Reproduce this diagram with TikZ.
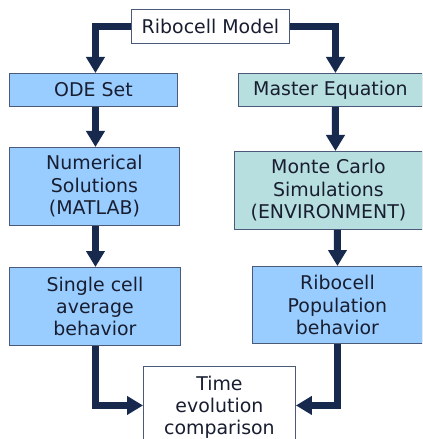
\documentclass[tikz,border=0pt]{standalone}
\usepackage{fontspec}
\setmainfont{DejaVu Sans}
\usetikzlibrary{arrows.meta}
\definecolor{navy}{HTML}{172A4E}
\definecolor{bord}{HTML}{4A5A78}
\definecolor{lblue}{HTML}{99CCFF}
\definecolor{lteal}{HTML}{B8DFE0}
\definecolor{txt}{HTML}{181E30}
\tikzset{
  box/.style={draw=bord, line width=0.9bp, rectangle, inner sep=0pt, align=center,
    text=txt, font=\fontsize{19}{22.5}\selectfont, anchor=north west},
  flow/.style={draw=navy, line width=7bp, line join=miter,
    -{Triangle[width=18bp,length=16bp]}}
}
\begin{document}
\begin{tikzpicture}[x=1bp,y=-1bp]
\useasboundingbox (0,0) rectangle (422,439);
\clip (0,0) rectangle (422,439);
\node[box, fill=white, minimum width=158bp, minimum height=34bp] (rm) at (131,9) {Ribocell Model};
\node[box, fill=lblue, minimum width=168bp, minimum height=33bp] (ode) at (9,73) {ODE Set};
\node[box, fill=lteal, minimum width=184bp, minimum height=33bp] (me) at (238,73) {Master Equation};
\node[box, fill=lblue, minimum width=170bp, minimum height=78bp] (num) at (9,147) {Numerical\\Solutions\\(MATLAB)};
\node[box, fill=lteal, minimum width=188bp, minimum height=78bp] (mc) at (234,151) {Monte Carlo\\Simulations\\(ENVIRONMENT)};
\node[box, fill=lblue, minimum width=171bp, minimum height=78bp] (sc) at (9,267) {Single cell\\average\\behavior};
\node[box, fill=lblue, minimum width=170bp, minimum height=77bp] (pop) at (252,266) {Ribocell\\Population\\behavior};
\node[box, fill=white, minimum width=152bp, minimum height=84bp,
  font=\fontsize{19}{22}\selectfont] (te) at (143,366) {\raisebox{3bp}{\begin{tabular}{@{}c@{}}Time\\evolution\\comparison\end{tabular}}};
\draw[flow] (rm.west) -| ([xshift=2bp]ode.north);
\draw[flow] (rm.east) -| ([xshift=5bp]me.north);
\draw[flow] ([xshift=2bp]ode.south) -- ([xshift=1bp]num.north);
\draw[flow] ([xshift=5bp]me.south) -- ([xshift=7bp]mc.north);
\draw[flow] ([xshift=1bp]num.south) -- ([xshift=0.5bp]sc.north);
\draw[flow] ([xshift=9bp]mc.south) -- (pop.north);
\draw[flow] ([xshift=0.5bp]sc.south) |- ([yshift=3bp]te.west);
\draw[flow] (pop.south) |- ([yshift=3bp]te.east);
\end{tikzpicture}
\end{document}
